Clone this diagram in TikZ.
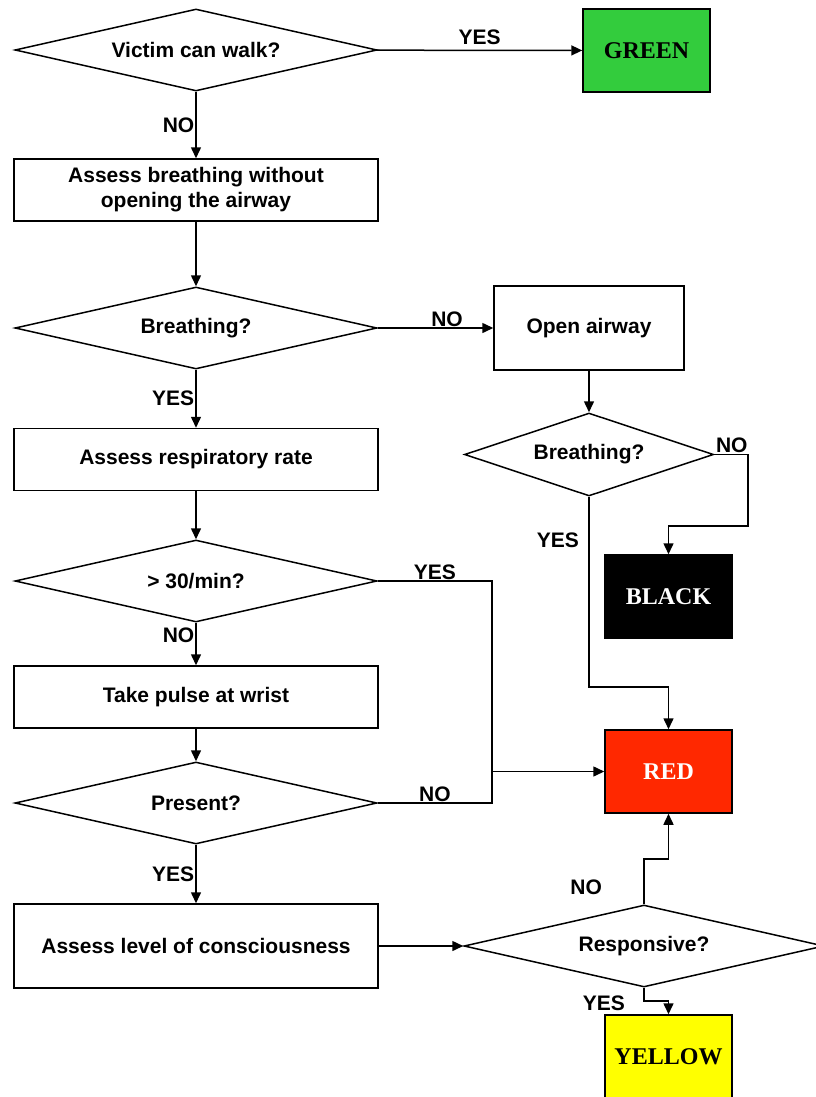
\documentclass[tikz,border=0pt]{standalone}
\usepackage{fontspec}
\setmainfont{Liberation Sans}
\newfontfamily\tagfont{Liberation Serif}
\usetikzlibrary{arrows.meta, shapes.geometric, calc, positioning}

\definecolor{triagegreen}{RGB}{51,204,61}
\definecolor{triagered}{RGB}{255,40,0}
\definecolor{triageyellow}{RGB}{255,255,0}

\begin{document}
\begin{tikzpicture}[x=1pt, y=-1pt, line width=1.5pt, font=\fontsize{21}{25}\selectfont\bfseries]
			\tikzstyle{action}=[draw, rectangle, minimum width=364pt, minimum height=62pt, align=center, inner sep=0pt]
			\tikzstyle{decision}=[draw, diamond, aspect=4.4, minimum width=362pt, minimum height=82pt, inner sep=0pt]
			\tikzstyle{tag}=[draw, rectangle, minimum width=127pt, minimum height=83pt, inner sep=0pt, font=\tagfont\fontsize{24}{28}\selectfont\bfseries]
			\tikzstyle{answer}=[inner sep=1pt]
			\tikzstyle{arrow}=[-{Triangle[length=11pt,width=10pt]}]
			\useasboundingbox (0,0) rectangle (815,1097);
			
			% Main column
			\node[decision] (walk) at (196, 50)            {Victim can walk?};
			\node[action] (assessbr) at (196, 190)         {Assess breathing without\\opening the airway};
			\node[decision] (breath) at (196, 328)         {Breathing?};
			\node[action] (rate) at (196, 459.5)           {Assess respiratory rate};
			\node[decision] (fast) at (196, 581)           {> 30/min?};
			\node[action] (pulse) at (196, 697)            {Take pulse at wrist};
			\node[decision] (present) at (196, 803)        {Present?};
			\node[action, minimum height=84pt] (conscious) at (196, 946) {Assess level of consciousness};
			
			% Right column
			\node[draw, minimum width=190pt, minimum height=84pt] (airway) at (589, 328) {Open airway};
			\node[decision, aspect=3, minimum width=249pt, minimum height=83pt] (breath2) at (589, 454.5) {Breathing?};
			\node[decision, minimum width=360pt] (respond) at (644, 946) {Responsive?};
			
			% Triage tags
			\node[tag, fill=triagegreen] (green) at (646.5, 50.5)      {GREEN};
			\node[tag, fill=black, text=white] (black) at (668.5, 596.5) {BLACK};
			\node[tag, fill=triagered, text=white] (red) at (668.5, 771.5) {RED};
			\node[tag, fill=triageyellow] (yellow) at (668.5, 1056.5)  {YELLOW};
			
			% Bends
			\coordinate (nobend) at (748, 526);
			\coordinate (yesbend) at (589, 687);
			\coordinate (merge) at (492, 771.5);
			\coordinate (redbend) at (644, 859);
			\coordinate (yellowbend) at (644, 1001);
			
			% Edges
			\draw[arrow] (walk) -- node[above, answer, yshift=4pt] {YES} (green);
			\draw[arrow] (walk) -- node[left, answer] {NO} (assessbr);
			\draw[arrow] (assessbr) -- (breath);
			\draw[arrow] (breath) -- node[above, answer, pos=0.6] {NO} (airway);
			\draw[arrow] (breath) -- node[left, answer] {YES} (rate);
			\draw[arrow] (airway) -- (breath2);
			\draw[arrow] (breath2.east) node[above right, answer] {NO} -| (nobend) -| (black.north);
			\draw[arrow] (breath2.south) -- node[left=6pt, pos=0.23] {YES} (yesbend) -| (red.north);
			\draw[arrow] (rate) -- (fast);
			\draw (fast.east) -| node[above, answer, pos=0.25] {YES} (merge);
			\draw[arrow] (fast) -- node[left, answer, pos=0.3] {NO} (pulse);
			\draw[arrow] (pulse) -- (present);
			\draw (present.east) -| node[above, answer, pos=0.25] {NO} (merge);
			\draw[arrow] (merge) -- (red);
			\draw[arrow] (present) -- node[left, answer] {YES} (conscious);
			\draw[arrow] (conscious) -- (respond);
			\draw[arrow] (respond.north) -- node[left=38pt, pos=0.37] {NO} (redbend) -| (red.south);
			\draw[arrow] (respond.south) -- node[below left=1pt and 15pt, pos=0.2] {YES} (yellowbend) -| (yellow.north);
		\end{tikzpicture}
\end{document}
